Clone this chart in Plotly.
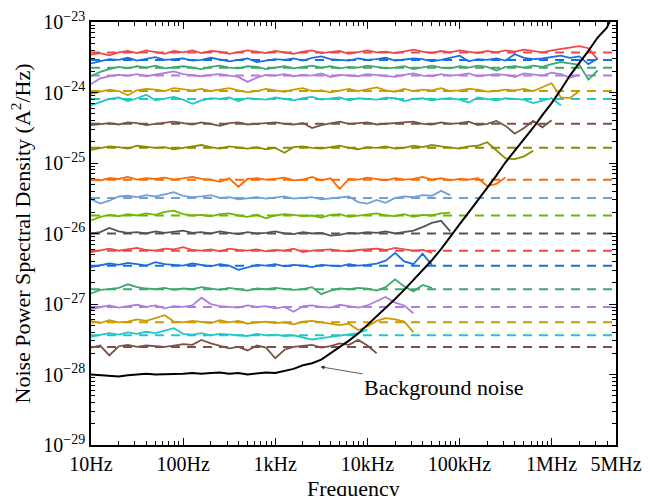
import plotly.graph_objects as go
import math

# Frequency grid (Hz), 10 points per decade
FREQ = [10, 12.6, 15.8, 20, 25.1, 31.6, 39.8, 50.1, 63.1, 79.4,
        100, 126, 158, 200, 251, 316, 398, 501, 631, 794,
        1.0e3, 1.26e3, 1.58e3, 2.0e3, 2.51e3, 3.16e3, 3.98e3, 5.01e3, 6.31e3, 7.94e3,
        1.0e4, 1.26e4, 1.58e4, 2.0e4, 2.51e4, 3.16e4, 3.98e4, 5.01e4, 6.31e4, 7.94e4,
        1.0e5, 1.26e5, 1.58e5, 2.0e5, 2.51e5, 3.16e5, 3.98e5, 5.01e5, 6.31e5, 7.94e5,
        1.0e6, 1.26e6, 1.58e6, 2.0e6, 2.51e6, 3.16e6, 3.98e6, 5.01e6]

# Background noise, log10(PSD)
BG_LOG = [-28.00, -28.01, -28.02, -28.03, -28.01, -28.00, -27.99, -28.00, -28.00, -27.99,
          -27.99, -27.98, -27.99, -27.98, -27.97, -27.99, -27.98, -28.00, -27.98, -27.97,
          -27.98, -27.95, -27.92, -27.87, -27.84, -27.79, -27.70, -27.62, -27.52, -27.42,
          -27.30, -27.17, -27.06, -26.93, -26.80, -26.66, -26.52, -26.38, -26.22, -26.04,
          -25.87, -25.70, -25.53, -25.35, -25.18, -24.99, -24.83, -24.67, -24.50, -24.32,
          -24.15, -23.96, -23.76, -23.58, -23.41, -23.22, -23.08, -22.80]

# Mean levels of each measured spectrum (A^2/Hz)
LEVELS = [3.7e-24, 2.9e-24, 2.25e-24, 1.74e-24, 1.05e-24, 8.1e-25, 3.6e-25, 1.64e-25,
          5.8e-26, 3.2e-26, 1.8e-26, 1.0e-26, 5.7e-27, 3.5e-27, 1.62e-27, 9.1e-28,
          5.5e-28, 3.6e-28, 2.46e-28]

COLORS = ["#F0484A", "#1A6FE0", "#3BAA6C", "#B07DE0", "#CC9B00", "#1FC8C8",
          "#7B524A", "#8C8C00", "#FF6A00", "#6FA2D8", "#6DB800", "#555555",
          "#F0484A", "#1A6FE0", "#3BAA6C", "#B07DE0", "#CC9B00", "#1FC8C8", "#7B524A"]

# Deviation of each measured spectrum from its level, in 0.01 decade
DEV_01 = [-3, -1, -4, 0, 2, -1, 3, 1, -2, 2, 0, 3, -1, 2, 1, -2, 0, 3, 1, -1,
          2, 0, -2, 1, 3, -1, 0, 2, -2, 1, 3, 0, 1, -1, 2, 4, 1, -1, 2, 0,
          3, 1, -1, 2, 0, 3, 1, 4, 2, 0, 3, 5, 8, 9, 6, -10]
DEV_02 = [-5, -2, 1, 0, 3, -1, 2, 4, 0, 1, 2, -1, 0, 3, 1, -2, 0, 2, -3, -1,
          1, 0, 2, -1, 3, 5, 1, 0, -1, 2, 0, 1, 3, -1, 0, 2, 1, -2, 0, 3,
          6, -2, 1, 0, 2, -1, 8, 3, 1, 2, 4, 6, 3, 5, -6, 2]
DEV_03 = [-12, -6, -2, 1, -1, 2, 0, 3, -1, 1, 2, 0, -2, 1, 3, 0, -1, 2, 1, -2,
          0, 2, -1, 1, 3, 0, 2, -1, 1, 0, 3, 1, -1, 0, 2, -2, 1, 3, 0, -1,
          2, 0, 3, 1, -4, 1, 2, 0, 3, 1, 5, 8, 6, 4, -17, -4]
DEV_04 = [-12, -4, -1, 1, 0, 2, -1, 1, 3, 6, 2, 0, -1, 1, 2, 0, -2, -9, -3, 1,
          0, 2, -1, 1, 0, 3, -2, 1, 0, -1, 2, 1, 0, -2, 1, 3, 0, -1, 2, 0,
          1, 3, -1, 0, 2, 1, -2, 3, 1, 0, 4, 2, -3, 1]
DEV_05 = [-4, -1, 2, 0, -6, 1, 3, 2, 0, 4, 2, 1, 3, 0, 2, 4, 1, -2, 0, 3,
          1, -1, 2, 4, 0, 1, -2, 1, 3, 0, 2, 5, 1, -1, 3, 0, 2, 1, 4, 0,
          1, 3, 2, -1, 0, 2, 1, 3, 0, 5, 11, -9, -10, 0]
DEV_06 = [-9, -4, 0, 2, -3, 1, 6, -2, 0, 3, -1, -7, -2, 1, 0, 2, -3, 1, 0, -1,
          2, 0, -2, 1, 3, -1, 0, 2, -2, 1, 0, -1, 2, 1, -3, 0, 1, -2, 0, 1,
          -1, -5, 2, 0, -2, 1, 0, -1, -6, -3, 1, -9]
DEV_07 = [-2, 0, 1, -1, 2, 1, -2, 0, 2, 3, 1, -1, 2, 0, -3, 1, 2, -1, 0, 1,
          2, 0, -1, 1, -6, -2, 1, 3, 0, 1, 2, -1, 0, 1, 2, 3, 0, -1, 2, 0,
          1, 3, -2, 0, 4, -3, -14, -6, 4, -5, 5]
DEV_08 = [-3, 0, 2, 1, -1, 3, 2, 0, 1, -2, 0, 2, 4, 1, -1, 2, 0, -1, 1, -2,
          0, -7, 1, 2, 0, -1, 1, 3, 0, -2, 1, 0, 2, -1, 0, 3, 1, 4, 2, 0,
          -1, 2, 3, 8, -3, -15, -16, -12, -4]
DEV_09 = [0, -1, 2, 1, 4, 0, 2, 1, 3, 0, 2, 4, 1, 0, -3, 2, -10, 1, 2, 0,
          1, 3, -1, 0, 4, -1, 2, -13, 1, 0, 3, 1, -1, 2, 0, 1, 4, 0, 2, -1,
          1, 0, 2, -9, -6, 3]
DEV_10 = [-2, -8, -4, 2, 3, 1, 4, 2, 5, 8, 3, 1, 2, 4, 0, 1, -2, 0, 1, -1,
          0, 2, -1, 0, 1, -2, -1, 0, 2, -6, -8, -3, -7, 0, 2, 1, 4, 3, 10, 4]
DEV_11 = [-7, -2, 1, -1, 2, 0, 3, 1, 5, 7, 2, 0, 1, -1, 2, 3, 0, -2, 1, -4,
          0, 2, 1, -1, 0, -3, 1, 2, -2, 0, 1, 3, 0, -1, 2, -2, 1, 0, 3, 4]
DEV_12 = [0, 2, 8, 3, 1, 2, 0, 3, 1, 2, 4, 1, 2, 0, 3, 1, -1, 2, 0, 1,
          3, 0, -1, 2, 0, 1, -3, -2, 1, 0, 2, 1, 3, 0, 2, 4, 9, 15, 18, 3]
DEV_13 = [-2, 1, 3, 0, 2, 4, 1, 0, 3, 2, 5, 1, 0, 2, -1, 3, 1, 0, 2, -1,
          1, 0, 3, -2, 0, 1, 2, 0, -1, 1, 2, 3, 1, 4, 2, 0, 1, -3]
DEV_14 = [-2, 0, 3, 1, 4, 2, 0, 5, 2, 1, 0, 3, 1, -1, 2, 0, -6, -2, 1, 0,
          2, -1, 1, 0, -2, 1, 0, -1, 2, 0, 1, 3, 7, 18, 6, 2, 17, 1]
DEV_15 = [-6, -1, 0, 2, 7, 3, 1, 0, 2, -1, 1, 0, 3, 1, -1, 2, 0, -2, 1, 0,
          2, 1, -1, 0, 3, -7, -2, 1, 0, 2, 1, -2, 3, 14, 4, -3, 6, 2]
DEV_16 = [-3, 0, 2, -1, 1, 3, 0, 2, -2, 1, 0, 2, 13, 4, 1, 0, -1, 2, 0, 1,
          -2, 0, -7, 1, 2, 0, -1, 3, 1, -1, 2, 8, 14, 6, 2, -9]
DEV_17 = [2, -1, 3, 0, 1, 4, 2, 6, 10, 1, 0, 2, 1, -1, 3, 0, 2, -2, 0, 1,
          -1, 0, -3, 1, 2, 0, -1, -4, -2, -11, -6, 2, 6, 4, 1, -14]
DEV_18 = [-2, 0, 3, 1, 4, 2, 5, 3, 6, 10, 2, 1, 3, 0, 2, 1, 0, -1, 2, 0,
          1, -1, 0, -3, -6, -4, -2, 0, 1, 3, 8]
DEV_19 = [-1, 2, -12, 1, 3, 0, 2, 1, 0, 2, 4, 3, 10, 5, 1, -2, 0, -5, 2, -1,
          -16, -4, 0, 2, 3, -1, 1, 5, 3, 10, 2, -9]

DEVS = [DEV_01, DEV_02, DEV_03, DEV_04, DEV_05, DEV_06, DEV_07, DEV_08, DEV_09, DEV_10,
        DEV_11, DEV_12, DEV_13, DEV_14, DEV_15, DEV_16, DEV_17, DEV_18, DEV_19]

X_TICKS = [10, 100, 1e3, 1e4, 1e5, 1e6, 5e6]
X_LABELS = ["10Hz", "100Hz", "1kHz", "10kHz", "100kHz", "1MHz", "5MHz"]
Y_EXPS = [-29, -28, -27, -26, -25, -24, -23]

FONT = "Liberation Serif"

fig = go.Figure()

# dashed mean levels across the full band
for lvl, col in zip(LEVELS, COLORS):
    fig.add_trace(go.Scatter(x=[FREQ[0], FREQ[-1]], y=[lvl, lvl], mode="lines",
                             line=dict(color=col, width=2, dash="9px,7px"),
                             hoverinfo="skip"))

# measured spectra
for lvl, col, dev in zip(LEVELS, COLORS, DEVS):
    fig.add_trace(go.Scatter(x=FREQ[:len(dev)], y=[lvl * 10 ** (d / 100) for d in dev],
                             mode="lines", line=dict(color=col, width=1.8)))

# background noise
fig.add_trace(go.Scatter(x=FREQ, y=[10 ** v for v in BG_LOG], mode="lines",
                         line=dict(color="black", width=2)))

minor_x = [m * 10 ** k for k in range(1, 7) for m in range(2, 10) if m * 10 ** k <= 5e6]
minor_y = [m * 10.0 ** k for k in range(-29, -23) for m in range(2, 10)]

# the page places the figure 8px in from the window's top-left corner
fig.update_layout(
    width=654, height=496,
    margin=dict(l=83, r=46, t=14, b=59, autoexpand=False),
    paper_bgcolor="white", plot_bgcolor="white",
    showlegend=False,
    font=dict(family=FONT, size=20, color="black"),
    xaxis=dict(type="log", range=[1, math.log10(5e6)], automargin=False,
               tickmode="array", tickvals=X_TICKS, ticktext=X_LABELS,
               ticks="inside", ticklen=7, tickwidth=1, tickcolor="black",
               showline=True, linecolor="black", linewidth=1.5, mirror="allticks",
               showgrid=False, zeroline=False, ticklabeloverflow="allow",
               minor=dict(tickmode="array", tickvals=minor_x, ticks="inside",
                          ticklen=4, tickcolor="black", showgrid=False),
               tickfont=dict(size=20)),
    yaxis=dict(type="log", range=[-29, -23], automargin=False,
               tickmode="array", tickvals=[10.0 ** e for e in Y_EXPS],
               ticktext=["10<sup>\u2212%d</sup>" % (-e) for e in Y_EXPS],
               ticks="inside", ticklen=7, tickwidth=1, tickcolor="black",
               showline=True, linecolor="black", linewidth=1.5, mirror="allticks",
               showgrid=False, zeroline=False, ticklabeloverflow="allow",
               minor=dict(tickmode="array", tickvals=minor_y, ticks="inside",
                          ticklen=4, tickcolor="black", showgrid=False),
               tickfont=dict(size=20)),
)

# axis titles
fig.add_annotation(text="Frequency", xref="paper", yref="paper", x=0.5, y=0,
                   xanchor="center", yanchor="middle", yshift=-43, showarrow=False,
                   font=dict(family=FONT, size=22, color="black"))
fig.add_annotation(text="Noise Power Spectral Density (A<sup>2</sup>/Hz)",
                   xref="paper", yref="paper", x=0, y=0.5, textangle=-90,
                   xanchor="center", yanchor="middle", xshift=-71, showarrow=False,
                   font=dict(family=FONT, size=22, color="black"))

fig.add_annotation(x=math.log10(3100), y=-27.89, xref="x", yref="y",
                   text="Background noise", showarrow=True,
                   ax=123, ay=21, axref="pixel", ayref="pixel",
                   arrowhead=2, arrowsize=1, arrowwidth=0.8, arrowcolor="#333333",
                   font=dict(family=FONT, size=22, color="black"))

fig.write_html("out.html")
